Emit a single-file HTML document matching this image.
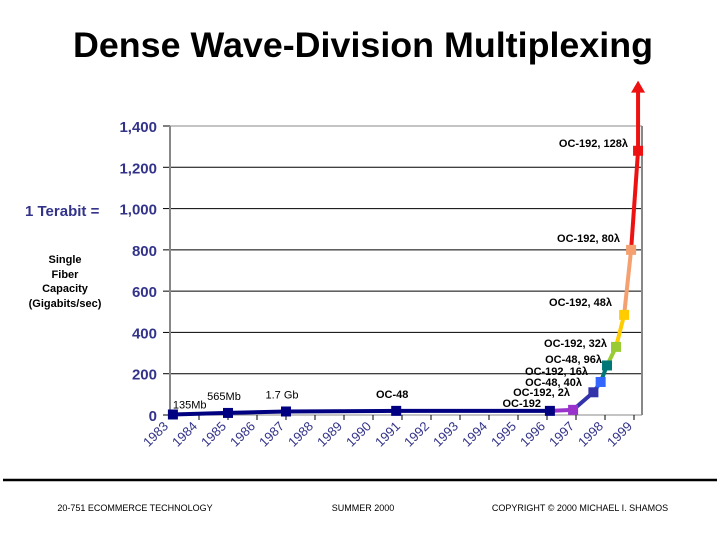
<!DOCTYPE html>
<html><head><meta charset="utf-8"><style>
body{margin:0;background:#fff;}
svg text{font-family:"Liberation Sans",Arial,sans-serif;}
</style></head><body>
<svg width="720" height="540" viewBox="0 0 720 540" xmlns="http://www.w3.org/2000/svg">
<text x="363" y="57" text-anchor="middle" font-size="35" font-weight="bold" fill="#000" textLength="580" lengthAdjust="spacingAndGlyphs">Dense Wave-Division Multiplexing</text>
<g id="grid"></g>
<g id="axes"></g>
<g id="series"></g>
<g id="labels"></g>
<text x="25" y="216" font-size="15" font-weight="bold" fill="#33338a">1 Terabit =</text>
<g font-size="11" font-weight="bold" text-anchor="middle" fill="#000">
<text x="65" y="263">Single</text><text x="65" y="278">Fiber</text><text x="65" y="292">Capacity</text><text x="65" y="307">(Gigabits/sec)</text>
</g>
<line x1="3" y1="480" x2="717" y2="480" stroke="#000" stroke-width="2.5"/>
<text x="135" y="511" font-size="9" text-anchor="middle">20-751 ECOMMERCE TECHNOLOGY</text>
<text x="363" y="511" font-size="9" text-anchor="middle">SUMMER 2000</text>
<text x="580" y="511" font-size="9" text-anchor="middle">COPYRIGHT © 2000 MICHAEL I. SHAMOS</text>
</svg>
<script>
const yTicks=[0,200,400,600,800,1000,1200,1400];
const yTickLabels=["0","200","400","600","800","1,000","1,200","1,400"];
const years=[1983,1984,1985,1986,1987,1988,1989,1990,1991,1992,1993,1994,1995,1996,1997,1998,1999];
const ptTimes=[1983.1,1985.0,1987.0,1990.8,1996.1,1996.9,1997.6,1997.85,1998.07,1998.38,1998.66,1998.9,1999.14];
const ptValues=[2.5,10,17,20,20,25,110,160,240,330,485,800,1280];
const ptColors=["#000080","#000080","#000080","#000080","#000080","#9933cc","#3333aa","#3366ff","#007777","#99cc33","#ffcc00","#f4a070","#ee1111"];
const arrowTop=1620;
const textLabels=[["135Mb",0,"n"],["565Mb",1,"n"],["1.7 Gb",2,"n"],["OC-48",3,"b"]];
const rightLabels=[["OC-192",5,541,407],["OC-192, 2λ",6,570,396],["OC-48, 40λ",7,582,386],["OC-192, 16λ",8,588,375],["OC-48, 96λ",9,602,363],["OC-192, 32λ",10,607,347],["OC-192, 48λ",10,612,306],["OC-192, 80λ",11,620,242],["OC-192, 128λ",12,628,147]];
const X0=170,X1=642,Y0=415,Y1=126;
const xs=t=>X0+29*(t-1983);
const ys=v=>Y0-(v/1400)*(Y0-Y1);
const NS="http://www.w3.org/2000/svg";
function mk(tag,attrs,parent,txt){const e=document.createElementNS(NS,tag);for(const k in attrs)e.setAttribute(k,attrs[k]);if(txt!==undefined)e.textContent=txt;parent.appendChild(e);return e;}
const grid=document.getElementById('grid'),axes=document.getElementById('axes'),series=document.getElementById('series'),labels=document.getElementById('labels');
yTicks.forEach((v,i)=>{
 const g=mk('line',{x1:X0,y1:ys(v),x2:X1,y2:ys(v),stroke:i==yTicks.length-1?'#888':'#000','stroke-width':1},grid);
 
 
 mk('line',{x1:X0-7,y1:ys(v),x2:X0,y2:ys(v),stroke:'#000'},axes);
 const t=mk('text',{x:157,y:ys(v)+6,'text-anchor':'end','font-size':15,'font-weight':'bold',fill:'#33338a'},axes,yTickLabels[i]);
 
 
});
const ya=mk('line',{x1:X0,y1:Y1,x2:X0,y2:Y0,stroke:'#888','stroke-width':2},axes);


mk('line',{x1:X1,y1:Y1,x2:X1,y2:Y0,stroke:'#888','stroke-width':2},axes);
mk('line',{x1:X0,y1:Y0,x2:X1,y2:Y0,stroke:'#888','stroke-width':1},axes);
years.forEach((yr,i)=>{
 if(i>0)mk('line',{x1:xs(yr),y1:Y0,x2:xs(yr),y2:Y0+5,stroke:'#000'},axes);
 const lx=xs(yr)-1,ly=Y0+12;
 const t=mk('text',{x:lx,y:ly,'text-anchor':'end','font-size':13,fill:'#33338a',transform:`rotate(-45 ${lx} ${ly})`},axes,String(yr));
 
 
});
for(let i=1;i<ptTimes.length;i++){
 const l=mk('line',{x1:xs(ptTimes[i-1]),y1:ys(ptValues[i-1]),x2:xs(ptTimes[i]),y2:ys(ptValues[i]),stroke:ptColors[i],'stroke-width':4},series);
 
 
}
const last=ptTimes.length-1;
const ax=xs(ptTimes[last]),ayTop=ys(arrowTop);
const arr=mk('line',{x1:ax,y1:ys(ptValues[last]),x2:ax,y2:ayTop+10,stroke:'#ee1111','stroke-width':4},series);


const ah=mk('polygon',{points:`${ax-7},${ayTop+12} ${ax+7},${ayTop+12} ${ax},${ayTop}`,fill:'#ee1111'},series);


ptTimes.forEach((t,i)=>{
 const r=mk('rect',{x:xs(t)-5,y:ys(ptValues[i])-5,width:10,height:10,fill:ptColors[i]},series);
 
 
});
textLabels.forEach(([s,i,w])=>{
 const t=mk('text',{x:xs(ptTimes[i])+(i==0?0:-4),y:ys(ptValues[i])-(i==0?6:13),'font-size':11,'font-weight':w=='b'?'bold':'normal','text-anchor':i==0?'start':'middle'},labels,s);
 
 
});
rightLabels.forEach(([s,i,x,y])=>{
 const t=mk('text',{x:x,y:y,'font-size':11,'font-weight':'bold','text-anchor':'end'},labels,s);
 
 
});
</script>
</body></html>
